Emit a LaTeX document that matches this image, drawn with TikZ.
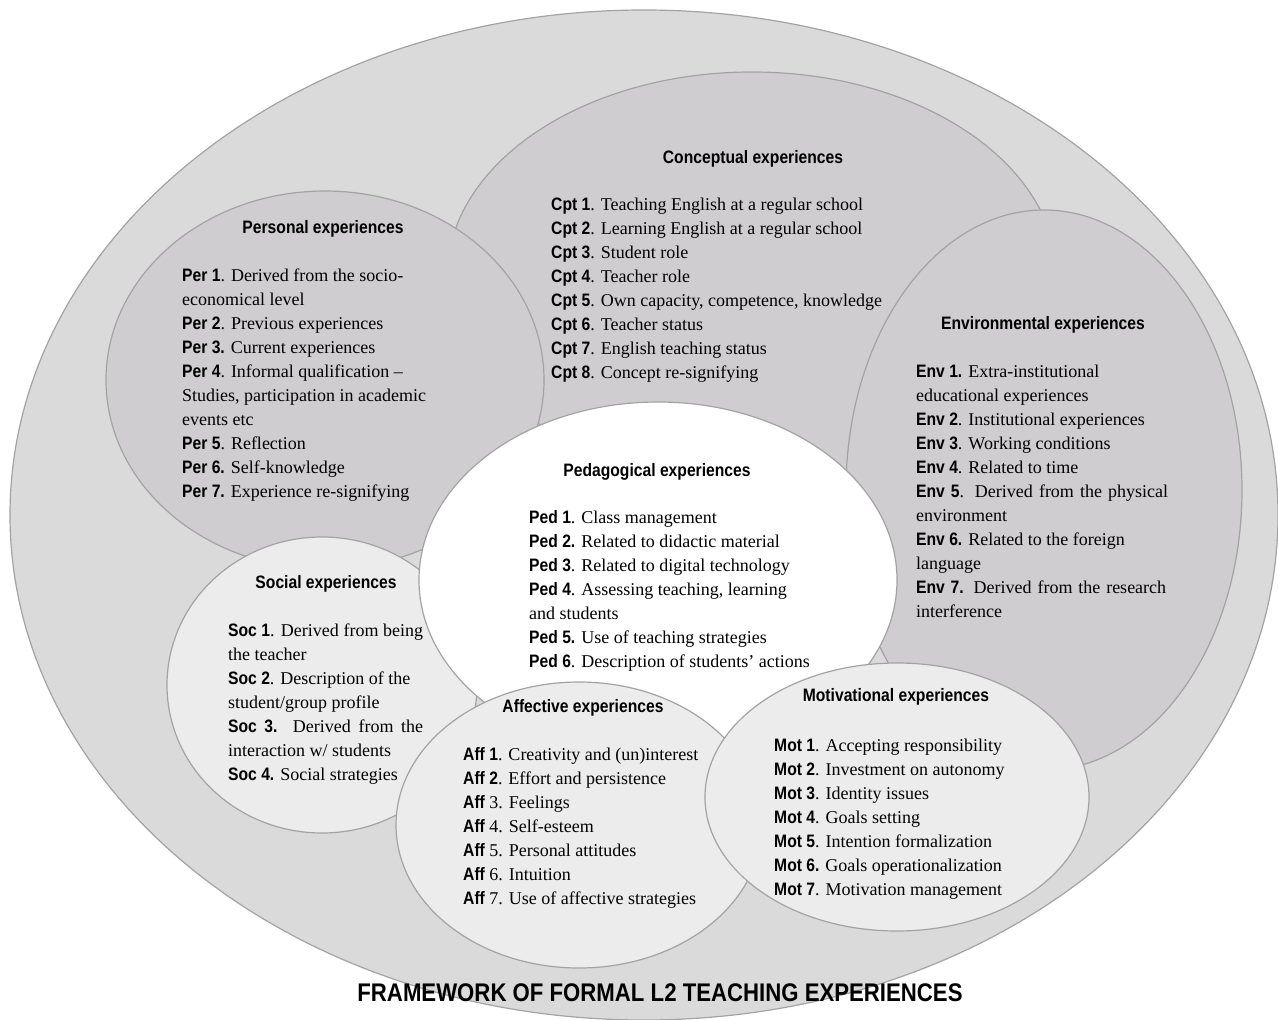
\documentclass[tikz,border=0pt]{standalone}
\usepackage{fontspec}
\setmainfont{Liberation Serif}
\newfontfamily\labfont[FakeStretch=0.87]{Liberation Sans}
\usepackage{tikz}
\usetikzlibrary{shapes}
\definecolor{faouter}{RGB}{218,218,218}
\definecolor{fadark}{RGB}{207,205,207}
\definecolor{falight}{RGB}{236,236,236}
\definecolor{faedge}{RGB}{163,163,163}
\newcommand{\faexpellipse}[5] {\node at (#1) (#2) [ellipse, draw=faedge, line width=1.2pt, fill=#3, minimum width=#4, minimum height=#5, inner sep=0pt] {};}
\newcommand{\faexptitle}[3] {\node at (#1) (#2) [anchor=base, inner sep=0pt, font=\labfont\bfseries\fontsize{18}{24}\selectfont] {#3};}
\newcommand{\faexplist}[3] {\node at (#1) (#2) [anchor=north west, inner sep=0pt, align=left, font=\fontsize{18}{24}\selectfont] {\strut #3};}
\newcommand{\falab}[1] {{\labfont\bfseries #1}}

\begin{document}
\begin{tikzpicture}[x=1pt, y=-1pt]
\useasboundingbox (0,0) rectangle (1278,1020);

\faexpellipse {644,515}{outer}{faouter}{1268pt}{1010pt};
\faexpellipse {752,277}{cpt}{fadark}{610pt}{410pt};
\faexpellipse {1044,490}{env}{fadark}{396pt}{560pt};
\faexpellipse {325,380}{per}{fadark}{438pt}{378pt};
\faexpellipse {322,685}{soc}{falight}{310pt}{296pt};
\faexpellipse {658,580}{ped}{white}{478pt}{356pt};
\faexpellipse {579,825}{aff}{falight}{366pt}{286pt};
\faexpellipse {897,797}{mot}{falight}{384pt}{268pt};

\faexptitle {753,163}{cpttitle}{Conceptual experiences};
\faexplist {551,193.2}{cptlist}{\falab{Cpt 1}. Teaching English at a regular school\\
\falab{Cpt 2}. Learning English at a regular school\\
\falab{Cpt 3}. Student role\\
\falab{Cpt 4}. Teacher role\\
\falab{Cpt 5}. Own capacity, competence, knowledge\\
\falab{Cpt 6}. Teacher status\\
\falab{Cpt 7}. English teaching status\\
\falab{Cpt 8}. Concept re-signifying};

\faexptitle {323,233}{pertitle}{Personal experiences};
\faexplist {182,264.2}{perlist}{\falab{Per 1}. Derived from the socio-\\
economical level\\
\falab{Per 2}. Previous experiences\\
\falab{Per 3.} Current experiences\\
\falab{Per 4}. Informal qualification --\\
Studies, participation in academic\\
events etc\\
\falab{Per 5}. Reflection\\
\falab{Per 6.} Self-knowledge\\
\falab{Per 7.} Experience re-signifying};

\faexptitle {1043,329}{envtitle}{Environmental experiences};
\faexplist {916,360.2}{envlist}{\falab{Env 1.} Extra-institutional\\
educational experiences\\
\falab{Env 2}. Institutional experiences\\
\falab{Env 3}. Working conditions\\
\falab{Env 4}. Related to time\\
\makebox[252pt][s]{\falab{Env 5}. Derived from the physical}\\
environment\\
\falab{Env 6.} Related to the foreign\\
language\\
\makebox[250pt][s]{\falab{Env 7.} Derived from the research}\\
interference};

\faexptitle {657,476}{pedtitle}{Pedagogical experiences};
\faexplist {529,506.2}{pedlist}{\falab{Ped 1}. Class management\\
\falab{Ped 2.} Related to didactic material\\
\falab{Ped 3}. Related to digital technology\\
\falab{Ped 4}. Assessing teaching, learning\\
and students\\
\falab{Ped 5.} Use of teaching strategies\\
\falab{Ped 6}. Description of students' actions};

\faexptitle {326,588}{soctitle}{Social experiences};
\faexplist {228,619.2}{soclist}{\makebox[195pt][s]{\falab{Soc 1}. Derived from being}\\
the teacher\\
\falab{Soc 2}. Description of the\\
student/group profile\\
\makebox[195pt][s]{\falab{Soc 3.} Derived from the}\\
interaction w/ students\\
\falab{Soc 4.} Social strategies};

\faexptitle {583,712}{afftitle}{Affective experiences};
\faexplist {463,743.2}{afflist}{\falab{Aff 1}. Creativity and (un)interest\\
\falab{Aff 2}. Effort and persistence\\
\falab{Aff} 3. Feelings\\
\falab{Aff} 4. Self-esteem\\
\falab{Aff} 5. Personal attitudes\\
\falab{Aff} 6. Intuition\\
\falab{Aff} 7. Use of affective strategies};

\faexptitle {896,701}{mottitle}{Motivational experiences};
\faexplist {774,734.2}{motlist}{\falab{Mot 1}. Accepting responsibility\\
\falab{Mot 2}. Investment on autonomy\\
\falab{Mot 3}. Identity issues\\
\falab{Mot 4}. Goals setting\\
\falab{Mot 5}. Intention formalization\\
\falab{Mot 6.} Goals operationalization\\
\falab{Mot 7}. Motivation management};

\node at (660,1001) (fatitle) [anchor=base, inner sep=0pt, font=\labfont\bfseries\fontsize{25.5}{30}\selectfont] {FRAMEWORK OF FORMAL L2 TEACHING EXPERIENCES};

\end{tikzpicture}
\end{document}
